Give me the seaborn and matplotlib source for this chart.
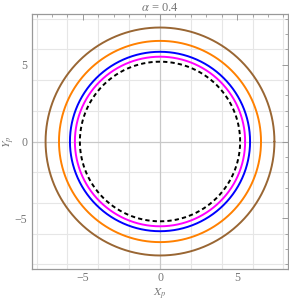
import numpy as np
import pandas as pd
import matplotlib
matplotlib.use("Agg")
import matplotlib.pyplot as plt
import seaborn as sns
from matplotlib.ticker import MultipleLocator

# Data: shadow radii
labels = ["r1", "r2", "r3", "r4", "r5"]
radii = [7.42, 6.55, 5.84, 5.52, 5.196]
colors = ["#996633", "#FF8000", "#0000FF", "#FF00FF", "#000000"]
styles = ["-", "-", "-", "-", "--"]
title = r"$\alpha$ = 0.4"

theta = np.linspace(0, 2 * np.pi, 721)
frames = []
for lab, r in zip(labels, radii):
    frames.append(pd.DataFrame({"x": r * np.cos(theta), "y": r * np.sin(theta),
                                "curve": lab, "order": np.arange(theta.size)}))
df = pd.concat(frames, ignore_index=True)

sns.set_style("white")
plt.rcParams["font.family"] = ["Liberation Serif", "DejaVu Serif"]
plt.rcParams["mathtext.fontset"] = "stix"

fig = plt.figure(figsize=(2.89, 3.01), dpi=100)
ax = fig.add_axes([32 / 289, 32 / 301, 256 / 289, 255 / 301])

lim = 8.3
ax.set_xlim(-lim, lim)
ax.set_ylim(-lim, lim)

# grid
for g in [-8, -6, -4, -2, 2, 4, 6, 8]:
    ax.axvline(g, color="#e6e6e6", lw=0.8, zorder=0)
    ax.axhline(g, color="#e6e6e6", lw=0.8, zorder=0)
ax.axvline(0, color="#c8c8c8", lw=0.9, zorder=0)
ax.axhline(0, color="#c8c8c8", lw=0.9, zorder=0)

for lab, c, ls in zip(labels, colors, styles):
    sub = df[df["curve"] == lab]
    sns.lineplot(data=sub, x="x", y="y", sort=False, estimator=None, ax=ax,
                 color=c, lw=1.4, linestyle=ls, legend=False)
    if ls == "--":
        ax.lines[-1].set_dashes([2.2, 1.6])

ax.xaxis.set_major_locator(MultipleLocator(5))
ax.yaxis.set_major_locator(MultipleLocator(5))
ax.xaxis.set_minor_locator(MultipleLocator(1))
ax.yaxis.set_minor_locator(MultipleLocator(1))
ax.tick_params(which="both", direction="in", top=True, right=True,
               colors="#999999", labelcolor="#777777", labelsize=8.5)
ax.tick_params(which="major", length=4, width=0.7)
ax.tick_params(which="minor", length=2, width=0.6)
ax.tick_params(axis="x", pad=2)
ax.set_xticks([-5, 0, 5])
ax.set_xticklabels(["\u22125", "0", "5"])
ax.set_yticks([-5, 0, 5])
ax.set_yticklabels(["\u22125", "0", "5"])

for s in ax.spines.values():
    s.set_color("#999999")
    s.set_linewidth(0.9)

ax.set_xlabel(r"$X_p$", color="#777777", fontsize=8.5, va="center")
ax.set_ylabel(r"$Y_p$", color="#777777", fontsize=8.5, va="center")
ax.xaxis.set_label_coords(0.5, -0.1)
ax.yaxis.set_label_coords(-0.09, 0.5)
ax.set_title(title, color="#777777", fontsize=9, pad=2)

fig.savefig("out.png", dpi=100)
